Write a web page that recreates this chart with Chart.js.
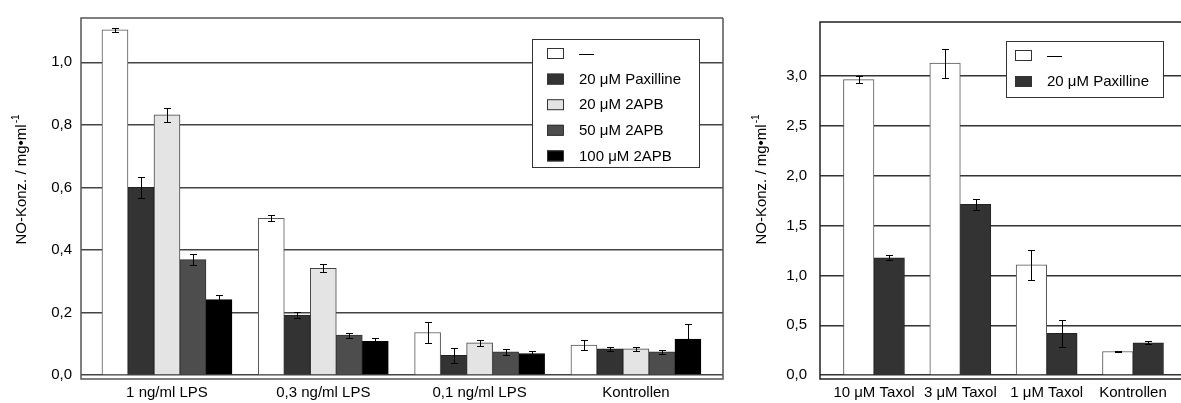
<!DOCTYPE html>
<html lang="de">
<head>
<meta charset="utf-8">
<title>NO-Konzentration</title>
<script src="https://cdn.jsdelivr.net/npm/chart.js@4"></script>
<style>
  html, body { margin: 0; padding: 0; background: #fff; }
  #wrap { position: relative; width: 1181px; height: 403px; overflow: hidden; }
  #chartLPS { position: absolute; left: 0; top: 0; }
  #chartTaxol { position: absolute; left: 745px; top: 0; }
</style>
</head>
<body>
<div id="wrap">
  <canvas id="chartLPS" width="745" height="403"></canvas>
  <canvas id="chartTaxol" width="436" height="403"></canvas>
</div>
<script>
// Kategorien
const lpsCategories = ['1 ng/ml LPS', '0,3 ng/ml LPS', '0,1 ng/ml LPS', 'Kontrollen'];
const taxolCategories = ['10 μM Taxol', '3 μM Taxol', '1 μM Taxol', 'Kontrollen'];
const categoryIndex = [0, 1, 2, 3];

// Serien-Namen
const lpsSeriesLabels = ['—', '20 μM Paxilline', '20 μM 2APB', '50 μM 2APB', '100 μM 2APB'];
const taxolSeriesLabels = ['—', '20 μM Paxilline'];

// Linkes Diagramm: Mittelwerte und Fehler
const lpsNone = [1.104, 0.501, 0.136, 0.096];
const lpsNoneErr = [0.006, 0.010, 0.033, 0.015];
const lpsPax = [0.600, 0.192, 0.063, 0.084];
const lpsPaxErr = [0.034, 0.008, 0.025, 0.007];
const lpsApb20 = [0.832, 0.341, 0.103, 0.084];
const lpsApb20Err = [0.022, 0.013, 0.009, 0.006];
const lpsApb50 = [0.369, 0.128, 0.074, 0.074];
const lpsApb50Err = [0.017, 0.008, 0.009, 0.007];
const lpsApb100 = [0.241, 0.108, 0.069, 0.115];
const lpsApb100Err = [0.015, 0.010, 0.009, 0.049];

// Rechtes Diagramm: Mittelwerte und Fehler
const taxolNone = [2.965, 3.131, 1.106, 0.237];
const taxolNoneErr = [0.036, 0.146, 0.148, 0.005];
const taxolPax = [1.178, 1.715, 0.420, 0.325];
const taxolPaxErr = [0.025, 0.057, 0.137, 0.016];

// Achsenbeschriftungen
const lpsYTicks = [0, 0.2, 0.4, 0.6, 0.8, 1.0];
const taxolYTicks = [0, 0.5, 1.0, 1.5, 2.0, 2.5, 3.0];

Chart.defaults.font.family = '"Liberation Sans", Arial, Helvetica, sans-serif';
Chart.defaults.font.size = 15;
Chart.defaults.color = '#000';

function formatDe(v) {
    return v.toFixed(1).replace('.', ',');
}

function toPoints(values) {
    return values.map((v, i) => ({ x: categoryIndex[i], y: v }));
}

// Fehlerbalken
const errorBarPlugin = {
    id: 'errorBars',
    afterDatasetsDraw(chart, args, opts) {
        const ctx = chart.ctx;
        const yScale = chart.scales.y;
        const cap = opts.capWidth / 2;
        ctx.save();
        ctx.strokeStyle = '#000';
        ctx.lineWidth = 1;
        chart.data.datasets.forEach((ds, di) => {
            const meta = chart.getDatasetMeta(di);
            meta.data.forEach((bar, i) => {
                const v = ds.data[i].y;
                const err = ds.errors[i];
                const yTop = Math.round(yScale.getPixelForValue(v + err)) + 0.5;
                const yBot = Math.round(yScale.getPixelForValue(v - err)) + 0.5;
                const x = Math.round(bar.x) + 0.5;
                ctx.beginPath();
                ctx.moveTo(x, yTop);
                ctx.lineTo(x, yBot);
                ctx.moveTo(x - cap, yTop);
                ctx.lineTo(x + cap, yTop);
                ctx.moveTo(x - cap, yBot);
                ctx.lineTo(x + cap, yBot);
                ctx.stroke();
            });
        });
        ctx.restore();
    }
};

// Rahmen um den Plotbereich
const framePlugin = {
    id: 'frame',
    afterDraw(chart, args, opts) {
        const ctx = chart.ctx;
        const a = chart.chartArea;
        ctx.save();
        ctx.strokeStyle = opts.color;
        ctx.lineWidth = opts.lineWidth;
        ctx.beginPath();
        ctx.moveTo(a.right, a.top);
        ctx.lineTo(a.left, a.top);
        ctx.lineTo(a.left, a.bottom);
        ctx.lineTo(a.right, a.bottom);
        if (opts.closed) {
            ctx.lineTo(a.right, a.top);
        }
        ctx.stroke();
        ctx.restore();
    }
};

// Legende als Kasten im Diagramm
const boxLegendPlugin = {
    id: 'boxLegend',
    afterDraw(chart, args, opts) {
        const ctx = chart.ctx;
        ctx.save();
        ctx.fillStyle = '#fff';
        ctx.fillRect(opts.x, opts.y, opts.w, opts.h);
        ctx.strokeStyle = '#333';
        ctx.lineWidth = 1;
        ctx.strokeRect(opts.x + 0.5, opts.y + 0.5, opts.w, opts.h);
        ctx.font = '15px "Liberation Sans", Arial, sans-serif';
        ctx.textBaseline = 'middle';
        chart.data.datasets.forEach((ds, i) => {
            const cy = opts.y + opts.first + i * opts.step;
            ctx.fillStyle = ds.backgroundColor;
            ctx.fillRect(opts.swatchX, cy - 5, 16, 11);
            ctx.strokeStyle = '#333';
            ctx.strokeRect(opts.swatchX + 0.5, cy - 4.5, 16, 10);
            ctx.fillStyle = '#000';
            ctx.fillText(ds.label, opts.textX, cy + 1);
        });
        ctx.restore();
    }
};

// Y-Achsentitel mit Hochzahl
const yTitlePlugin = {
    id: 'yTitle',
    afterDraw(chart, args, opts) {
        const ctx = chart.ctx;
        ctx.save();
        ctx.translate(opts.x, opts.y);
        ctx.rotate(-Math.PI / 2);
        ctx.fillStyle = '#000';
        ctx.textBaseline = 'middle';
        ctx.font = '15px "Liberation Sans", Arial, sans-serif';
        const w1 = ctx.measureText(opts.text).width;
        ctx.font = '10px "Liberation Sans", Arial, sans-serif';
        const w2 = ctx.measureText(opts.sup).width;
        const start = -(w1 + w2) / 2;
        ctx.font = '15px "Liberation Sans", Arial, sans-serif';
        ctx.fillText(opts.text, start, 0);
        ctx.font = '10px "Liberation Sans", Arial, sans-serif';
        ctx.fillText(opts.sup, start + w1 + 1, -6);
        ctx.restore();
    }
};

function makeDataset(label, values, errors, color, border) {
    return {
        label: label,
        data: toPoints(values),
        errors: errors,
        backgroundColor: color,
        borderColor: border,
        borderWidth: 1
    };
}

function makeChart(canvasId, cfg) {
    return new Chart(document.getElementById(canvasId), {
        type: 'bar',
        data: { datasets: cfg.datasets },
        options: {
            responsive: false,
            animation: false,
            layout: { padding: cfg.padding },
            datasets: { bar: { barThickness: cfg.barThickness } },
            scales: {
                x: {
                    type: 'linear',
                    bounds: 'data',
                    offset: false,
                    min: cfg.xMin,
                    max: cfg.xMax,
                    afterBuildTicks: s => { s.ticks = categoryIndex.map(v => ({ value: v })); },
                    afterFit: s => { s.height = 24; },
                    grid: { display: false, drawTicks: false, offset: false },
                    border: { display: false },
                    ticks: {
                        autoSkip: false,
                        maxRotation: 0,
                        padding: 5,
                        callback: (v, i) => cfg.categories[i]
                    }
                },
                y: {
                    bounds: 'data',
                    min: cfg.yMin,
                    max: cfg.yMax,
                    afterBuildTicks: s => { s.ticks = cfg.yTicks.map(v => ({ value: v })); },
                    afterFit: s => { s.width = cfg.yWidth; },
                    grid: { color: cfg.gridColor, lineWidth: 1.5, drawTicks: false },
                    border: { display: false },
                    ticks: {
                        padding: cfg.yPad,
                        callback: v => formatDe(v)
                    }
                }
            },
            plugins: {
                legend: { display: false },
                tooltip: { enabled: false },
                errorBars: { capWidth: 7 },
                frame: cfg.frame,
                boxLegend: cfg.legend,
                yTitle: cfg.title
            }
        },
        plugins: [errorBarPlugin, framePlugin, boxLegendPlugin, yTitlePlugin]
    });
}

// Linkes Diagramm (LPS)
makeChart('chartLPS', {
    categories: lpsCategories,
    datasets: [
        makeDataset(lpsSeriesLabels[0], lpsNone, lpsNoneErr, '#ffffff', '#555'),
        makeDataset(lpsSeriesLabels[1], lpsPax, lpsPaxErr, '#333333', '#222'),
        makeDataset(lpsSeriesLabels[2], lpsApb20, lpsApb20Err, '#e4e4e4', '#444'),
        makeDataset(lpsSeriesLabels[3], lpsApb50, lpsApb50Err, '#4d4d4d', '#333'),
        makeDataset(lpsSeriesLabels[4], lpsApb100, lpsApb100Err, '#000000', '#000')
    ],
    padding: { left: 0, right: 22, top: 12, bottom: 0 },
    barThickness: 26,
    xMin: -0.55, xMax: 3.557,
    yMin: -0.0126, yMax: 1.1415,
    yTicks: lpsYTicks,
    yWidth: 81, yPad: 9,
    gridColor: '#444',
    frame: { color: '#555', lineWidth: 1.5, closed: true },
    legend: { x: 532, y: 39, w: 167, h: 128, first: 14, step: 25.6, swatchX: 547, textX: 579 },
    title: { x: 22, y: 180, text: 'NO-Konz. / mg•ml', sup: '-1' }
});

// Rechtes Diagramm (Taxol)
makeChart('chartTaxol', {
    categories: taxolCategories,
    datasets: [
        makeDataset(taxolSeriesLabels[0], taxolNone, taxolNoneErr, '#ffffff', '#555'),
        makeDataset(taxolSeriesLabels[1], taxolPax, taxolPaxErr, '#333333', '#222')
    ],
    padding: { left: 0, right: 0, top: 11, bottom: 0 },
    barThickness: 30.5,
    xMin: -0.625, xMax: 3.556,
    yMin: -0.039, yMax: 3.544,
    yTicks: taxolYTicks,
    yWidth: 75, yPad: 13,
    gridColor: '#333',
    frame: { color: '#222', lineWidth: 1.5, closed: false },
    legend: { x: 261, y: 41, w: 157, h: 56, first: 14, step: 26, swatchX: 270, textX: 302 },
    title: { x: 17, y: 180, text: 'NO-Konz. / mg•ml', sup: '-1' }
});
</script>
</body>
</html>
